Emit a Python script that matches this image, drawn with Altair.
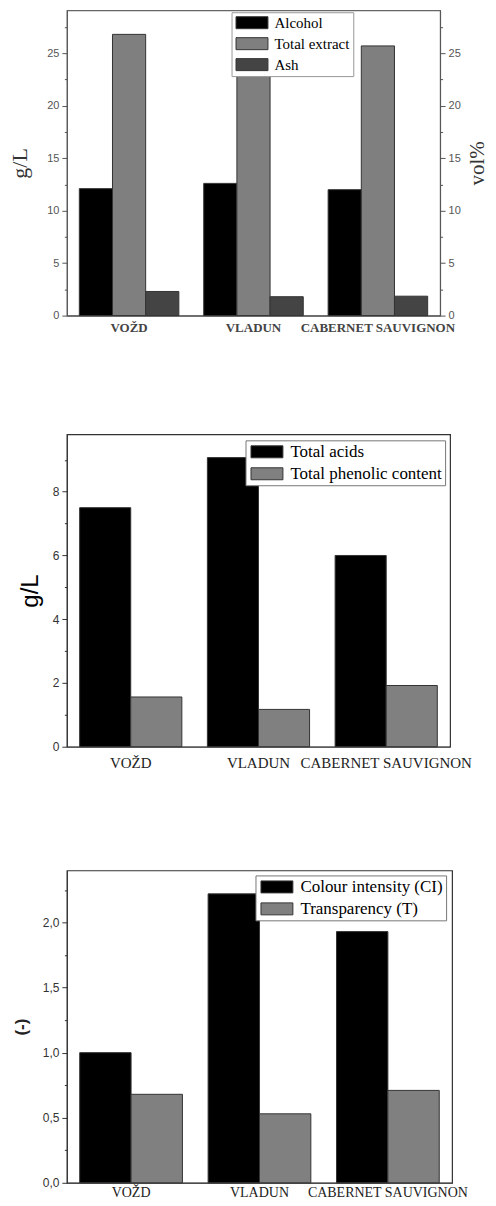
import altair as alt
import pandas as pd

varieties = ["VOŽD", "VLADUN", "CABERNET SAUVIGNON"]

series1 = ["Alcohol", "Total extract", "Ash"]
alcohol = [12.1, 12.6, 12.0]
total_extract = [26.8, 26.0, 25.7]
ash = [2.3, 1.8, 1.85]

series2 = ["Total acids", "Total phenolic content"]
total_acids = [7.5, 9.07, 6.0]
total_phenolic = [1.56, 1.17, 1.92]

series3 = ["Colour intensity (CI)", "Transparency (T)"]
colour_intensity = [1.0, 2.22, 1.93]
transparency = [0.68, 0.53, 0.71]


def long(series, cols):
    rows = []
    for s, vals in zip(series, cols):
        for v, val in zip(varieties, vals):
            rows.append({"variety": v, "series": s, "value": val})
    return pd.DataFrame(rows)


# wide rectangle symbol (unit box -1..1 scaled by sqrt(size)/2)
SYMBOL = "M-1,-1H4.33V1H-1Z"


def yaxis(values, major, title, orient="left", comma=False, title_font="Liberation Serif",
          title_size=22, title_weight="normal", label_color="#555", axis_color="#555",
          label_size=11, title_padding=8, title_color="#333", title_baseline="bottom"):
    test = f"abs(datum.value/{major} - round(datum.value/{major})) < 0.000001"
    lab = "replace(format(datum.value, '.1f'), '.', ',')" if comma else "format(datum.value, 'd')"
    return alt.Axis(
        values=values, orient=orient, title=title, grid=False,
        labelExpr=f"{test} ? {lab} : ''",
        tickSize={"condition": {"test": test, "value": 5}, "value": 2.5},
        tickColor=axis_color, domainColor=axis_color, labelColor=label_color,
        labelFont="Liberation Sans", labelFontSize=label_size, labelPadding=3,
        titleFont=title_font, titleFontSize=title_size, titleFontWeight=title_weight,
        titleColor=title_color, titlePadding=title_padding, titleAngle=270,
        titleBaseline=title_baseline,
    )


def xenc(label_size, label_weight, label_color, label_pad):
    return alt.X(
        "variety:N", sort=varieties, title=None,
        scale=alt.Scale(paddingInner=0.2, paddingOuter=0.1),
        axis=alt.Axis(labelAngle=0, ticks=False, labelFont="Liberation Serif",
                      labelFontSize=label_size, labelFontWeight=label_weight,
                      labelColor=label_color, labelPadding=label_pad,
                      labelOverlap=False, domainColor="#444"),
    )


def legend(lx, ly, size, row_pad, pad, stroke):
    return alt.Legend(
        orient="none", legendX=lx, legendY=ly, direction="vertical", title=None,
        fillColor="white", strokeColor=stroke, padding=pad,
        symbolType=SYMBOL, symbolSize=144, symbolStrokeColor="#333",
        symbolStrokeWidth=1, symbolOpacity=1,
        labelFont="Liberation Serif", labelFontSize=size, labelColor="#000",
        labelOffset=25, rowPadding=row_pad,
    )


# ---- Panel 1 ----
df1 = long(series1, [alcohol, total_extract, ash])
y1_values = [i * 2.5 for i in range(12)]
y1_scale = alt.Scale(domain=[0, 29.1], nice=False, zero=True)
x1 = xenc(13, "bold", "#444", 6)
base1 = alt.Chart(df1).mark_bar(stroke="#333", strokeWidth=1).encode(
    x=x1,
    xOffset=alt.XOffset("series:N", sort=series1, scale=alt.Scale(paddingInner=0, paddingOuter=0)),
    y=alt.Y("value:Q", scale=y1_scale, axis=yaxis(y1_values, 5, "g/L", title_padding=15)),
    color=alt.Color("series:N", sort=series1,
                    scale=alt.Scale(domain=series1, range=["#000000", "#7f7f7f", "#444444"]),
                    legend=legend(165, 2, 15, 4, 3, "#999")),
)
right1 = alt.Chart(df1).mark_bar(opacity=0).encode(
    x=x1,
    xOffset=alt.XOffset("series:N", sort=series1, scale=alt.Scale(paddingInner=0, paddingOuter=0)),
    y=alt.Y("value:Q", scale=y1_scale,
            axis=yaxis(y1_values, 5, "vol%", orient="right", title_size=21,
                       title_padding=6, title_baseline="top")),
)
panel1 = alt.layer(base1, right1).resolve_axis(y="independent").properties(
    width=374, height=306, view=alt.ViewBackground(stroke="#666", strokeWidth=1.2)
)

# ---- Panel 2 ----
df2 = long(series2, [total_acids, total_phenolic])
y2_values = [i * 1.0 for i in range(10)]
panel2 = alt.Chart(df2).mark_bar(stroke="#333", strokeWidth=1).encode(
    x=xenc(15, "normal", "#222", 9),
    xOffset=alt.XOffset("series:N", sort=series2, scale=alt.Scale(paddingInner=0, paddingOuter=0)),
    y=alt.Y("value:Q", scale=alt.Scale(domain=[0, 9.8], nice=False),
            axis=yaxis(y2_values, 2, "g/L", title_font="Liberation Sans", title_size=24,
                       label_color="#333", axis_color="#333", label_size=12,
                       title_padding=10, title_color="#000")),
    color=alt.Color("series:N", sort=series2,
                    scale=alt.Scale(domain=series2, range=["#000000", "#808080"]),
                    legend=legend(179, 6, 17, 4, 3, "#777")),
).properties(width=384, height=313, view=alt.ViewBackground(stroke="#333", strokeWidth=1.2))

# ---- Panel 3 ----
df3 = long(series3, [colour_intensity, transparency])
y3_values = [i * 0.25 for i in range(10)]
panel3 = alt.Chart(df3).mark_bar(stroke="#333", strokeWidth=1).encode(
    x=xenc(14, "normal", "#222", 3),
    xOffset=alt.XOffset("series:N", sort=series3, scale=alt.Scale(paddingInner=0, paddingOuter=0)),
    y=alt.Y("value:Q", scale=alt.Scale(domain=[0, 2.4], nice=False),
            axis=yaxis(y3_values, 0.5, "(-)", comma=True, title_font="Liberation Sans",
                       title_size=17, title_weight="bold", label_color="#333",
                       axis_color="#333", label_size=12, title_padding=12,
                       title_color="#222")),
    color=alt.Color("series:N", sort=series3,
                    scale=alt.Scale(domain=series3, range=["#000000", "#808080"]),
                    legend=legend(189, 5, 17, 4, 3, "#777")),
).properties(width=386, height=313, view=alt.ViewBackground(stroke="#333", strokeWidth=1.2))

chart = alt.vconcat(panel1, panel2, panel3, spacing=98).resolve_scale(
    color="independent", y="independent", x="independent", xOffset="independent"
).properties(padding=0, background="white")

chart.save("out.html", embed_options={"renderer": "svg", "actions": False})
